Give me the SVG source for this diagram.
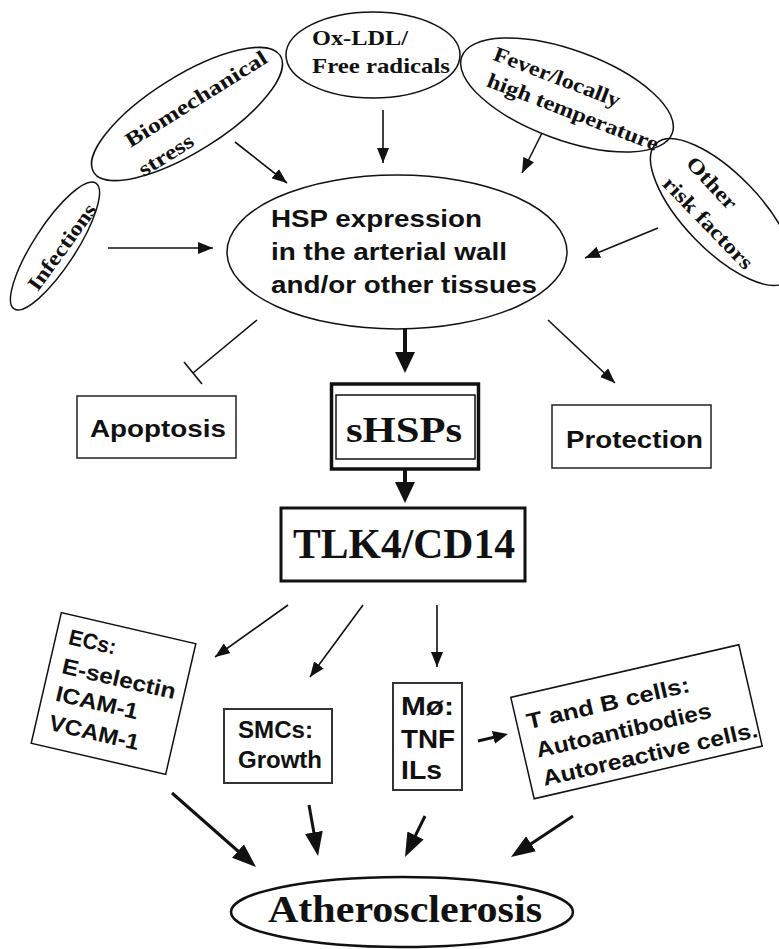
<svg xmlns="http://www.w3.org/2000/svg" width="779" height="949" viewBox="0 0 779 949">
<defs>
<style>
.serif{font-family:"Liberation Serif","Times New Roman",serif;font-weight:bold;fill:#111}
.sans{font-family:"Liberation Sans",Arial,sans-serif;font-weight:bold;fill:#111}
.shape{fill:none;stroke:#111;stroke-width:1.5}
.thin{fill:none;stroke:#111;stroke-width:1.6}
.thick{fill:none;stroke:#111;stroke-width:3}
</style>
<marker id="ah" markerUnits="userSpaceOnUse" markerWidth="15" markerHeight="12" refX="15" refY="6" orient="auto"><path d="M0,0 L15,6 L0,12 z" fill="#111"/></marker>
<marker id="ahm" markerUnits="userSpaceOnUse" markerWidth="15" markerHeight="13" refX="11" refY="6.5" orient="auto"><path d="M0,0 L15,6.5 L0,13 z" fill="#111"/></marker>
<marker id="ahv" markerUnits="userSpaceOnUse" markerWidth="21" markerHeight="20" refX="15" refY="10" orient="auto"><path d="M0,0 L21,10 L0,20 z" fill="#111"/></marker>
<marker id="ahb" markerUnits="userSpaceOnUse" markerWidth="24" markerHeight="18" refX="18" refY="9" orient="auto"><path d="M0,0 L24,9 L0,18 z" fill="#111"/></marker>
</defs>
<rect width="779" height="949" fill="#fff"/>

<g id="connectors">
<line class="thin" x1="383" y1="110" x2="383" y2="163" marker-end="url(#ah)"/>
<line class="thin" x1="235" y1="142" x2="287" y2="183" marker-end="url(#ah)"/>
<line class="thin" x1="108" y1="248" x2="213" y2="248" marker-end="url(#ah)"/>
<line class="thin" x1="542" y1="133" x2="522" y2="173" marker-end="url(#ah)"/>
<line class="thin" x1="658" y1="228" x2="585" y2="258" marker-end="url(#ah)"/>
<line class="thin" x1="548" y1="320" x2="615" y2="383" marker-end="url(#ah)"/>
<line class="thin" x1="257" y1="320" x2="193" y2="373"/>
<line class="thin" x1="184" y1="362" x2="202" y2="384"/>
<line x1="405" y1="329" x2="405" y2="367" stroke="#111" stroke-width="4" marker-end="url(#ahv)"/>
<line x1="405" y1="470" x2="405" y2="497" stroke="#111" stroke-width="4" marker-end="url(#ahv)"/>
<line class="thin" x1="288" y1="605" x2="215" y2="657" marker-end="url(#ah)"/>
<line class="thin" x1="363" y1="605" x2="310" y2="677" marker-end="url(#ah)"/>
<line class="thin" x1="437" y1="605" x2="437" y2="667" marker-end="url(#ah)"/>
<line class="thick" x1="478" y1="741" x2="504.1" y2="734.9" marker-end="url(#ahm)"/>
<line class="thick" x1="172" y1="793" x2="251.5" y2="863" marker-end="url(#ahb)"/>
<line class="thick" x1="309" y1="805" x2="317" y2="850.1" marker-end="url(#ahb)"/>
<line class="thick" x1="425" y1="816" x2="407.6" y2="851.6" marker-end="url(#ahb)"/>
<line class="thick" x1="573" y1="816" x2="516" y2="853.7" marker-end="url(#ahb)"/>
</g>

<g id="oxldl">
<ellipse class="shape" cx="373" cy="55" rx="87" ry="43"/>
<text class="serif" x="312" y="45" font-size="22" textLength="96" lengthAdjust="spacingAndGlyphs">Ox-LDL/</text>
<text class="serif" x="312" y="73" font-size="22" textLength="138" lengthAdjust="spacingAndGlyphs">Free radicals</text>
</g>

<g id="biomechanical">
<ellipse class="shape" cx="0" cy="0" rx="110" ry="38" transform="translate(187,114) rotate(-32)"/>
<text class="serif" font-size="21" text-anchor="middle" x="0" y="7" textLength="163" lengthAdjust="spacingAndGlyphs" transform="translate(196,99) rotate(-32)">Biomechanical</text>
<text class="serif" font-size="21" text-anchor="middle" x="0" y="7" textLength="61" lengthAdjust="spacingAndGlyphs" transform="translate(166,155) rotate(-32)">stress</text>
</g>

<g id="fever">
<ellipse class="shape" cx="0" cy="0" rx="112" ry="45" transform="translate(567,95) rotate(20)"/>
<text class="serif" font-size="21" text-anchor="middle" x="0" y="7" textLength="134" lengthAdjust="spacingAndGlyphs" transform="translate(557,77) rotate(21)">Fever/locally</text>
<text class="serif" font-size="21" text-anchor="middle" x="0" y="7" textLength="182" lengthAdjust="spacingAndGlyphs" transform="translate(573,112) rotate(21)">high temperature</text>
</g>

<g id="other">
<ellipse class="shape" cx="0" cy="0" rx="95" ry="38" transform="translate(722,212) rotate(46)"/>
<text class="serif" font-size="21" text-anchor="middle" x="0" y="7" textLength="64" lengthAdjust="spacingAndGlyphs" transform="translate(712,183) rotate(47)">Other</text>
<text class="serif" font-size="21" text-anchor="middle" x="0" y="7" textLength="120" lengthAdjust="spacingAndGlyphs" transform="translate(708,223) rotate(46)">risk factors</text>
</g>

<g id="infections">
<ellipse class="shape" cx="0" cy="0" rx="75" ry="21" transform="translate(55,246) rotate(-57)"/>
<text class="serif" font-size="21" text-anchor="middle" x="0" y="7" textLength="102" lengthAdjust="spacingAndGlyphs" transform="translate(62,247) rotate(-54)">Infections</text>
</g>

<g id="hsp">
<ellipse class="shape" cx="397" cy="252" rx="170" ry="77"/>
<text class="sans" x="271" y="227" font-size="24" textLength="211" lengthAdjust="spacingAndGlyphs">HSP expression</text>
<text class="sans" x="271" y="260" font-size="24" textLength="236" lengthAdjust="spacingAndGlyphs">in the arterial wall</text>
<text class="sans" x="271" y="293" font-size="24" textLength="266" lengthAdjust="spacingAndGlyphs">and/or other tissues</text>
</g>

<g id="apoptosis">
<rect x="77" y="396" width="159" height="62" fill="none" stroke="#222" stroke-width="1.5"/>
<text class="sans" x="90" y="437" font-size="24" textLength="136" lengthAdjust="spacingAndGlyphs">Apoptosis</text>
</g>

<g id="shsps">
<rect x="331.5" y="384" width="147" height="85" fill="none" stroke="#111" stroke-width="3.5"/>
<rect x="336" y="395" width="139" height="64" fill="none" stroke="#111" stroke-width="1.5"/>
<text class="serif" x="346" y="442" font-size="36" textLength="116" lengthAdjust="spacingAndGlyphs">sHSPs</text>
</g>

<g id="protection">
<rect x="552" y="405" width="159" height="63" fill="none" stroke="#222" stroke-width="1.5"/>
<text class="sans" x="566" y="448" font-size="24" textLength="137" lengthAdjust="spacingAndGlyphs">Protection</text>
</g>

<g id="tlk4">
<rect x="281" y="508" width="244" height="73" fill="none" stroke="#111" stroke-width="3"/>
<text class="serif" x="293" y="558" font-size="42" textLength="222" lengthAdjust="spacingAndGlyphs">TLK4/CD14</text>
</g>

<g id="ecs" transform="translate(113.5,693.5) rotate(13)">
<rect x="-69" y="-67" width="138" height="134" fill="none" stroke="#111" stroke-width="1.5"/>
<text class="sans" x="-56" y="-38" font-size="22" textLength="48" lengthAdjust="spacingAndGlyphs">ECs:</text>
<text class="sans" x="-56" y="-8" font-size="22" textLength="116" lengthAdjust="spacingAndGlyphs">E-selectin</text>
<text class="sans" x="-56" y="20" font-size="22" textLength="84" lengthAdjust="spacingAndGlyphs">ICAM-1</text>
<text class="sans" x="-56" y="50" font-size="22" textLength="92" lengthAdjust="spacingAndGlyphs">VCAM-1</text>
</g>

<g id="smcs">
<rect x="224" y="709" width="108" height="74" fill="none" stroke="#333" stroke-width="2"/>
<text class="sans" x="238" y="738" font-size="23" textLength="75" lengthAdjust="spacingAndGlyphs">SMCs:</text>
<text class="sans" x="238" y="768" font-size="23" textLength="84" lengthAdjust="spacingAndGlyphs">Growth</text>
</g>

<g id="macrophage">
<rect x="393" y="683" width="69" height="107" fill="none" stroke="#333" stroke-width="2"/>
<text class="sans" x="401" y="715" font-size="25" textLength="53" lengthAdjust="spacingAndGlyphs">Mø:</text>
<text class="sans" x="401" y="748" font-size="25" textLength="54" lengthAdjust="spacingAndGlyphs">TNF</text>
<text class="sans" x="401" y="779" font-size="25" textLength="41" lengthAdjust="spacingAndGlyphs">ILs</text>
</g>

<g id="tbcells" transform="translate(636.5,721.75) rotate(-13)">
<rect x="-117" y="-52" width="234" height="104" fill="none" stroke="#111" stroke-width="1.5"/>
<text class="sans" x="-107" y="-17" font-size="22" textLength="167" lengthAdjust="spacingAndGlyphs">T and B cells:</text>
<text class="sans" x="-104" y="13" font-size="22" textLength="179" lengthAdjust="spacingAndGlyphs">Autoantibodies</text>
<text class="sans" x="-104" y="42" font-size="22" textLength="220" lengthAdjust="spacingAndGlyphs">Autoreactive cells.</text>
</g>

<g id="atherosclerosis">
<ellipse cx="402" cy="912" rx="171" ry="35" fill="none" stroke="#111" stroke-width="2.5"/>
<text class="serif" x="268" y="922" font-size="38" textLength="274" lengthAdjust="spacingAndGlyphs">Atherosclerosis</text>
</g>
</svg>
